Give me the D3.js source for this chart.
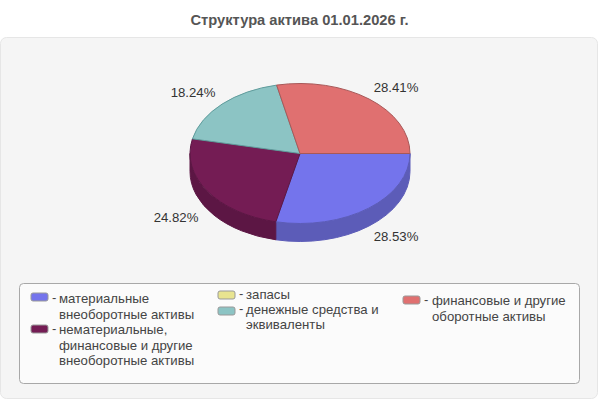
<!DOCTYPE html>
<html>
<head>
<meta charset="utf-8">
<style>
html, body { margin: 0; padding: 0; background: #fff; }
svg { display: block; }
text { font-family: "Liberation Sans", Arial, sans-serif; }
</style>
<script src="https://cdnjs.cloudflare.com/ajax/libs/d3/7.8.5/d3.min.js"></script>
</head>
<body>
<svg id="chart" width="600" height="400"></svg>
<script>
const title = "Структура актива 01.01.2026 г.";
const values = [28.53, 24.82, 0, 18.24, 28.41];
const colors = ["#7474ec", "#741c54", "#e8e490", "#8cc4c4", "#e07070"];
const sideColors = ["#5c5cb8", "#5c1644", "#b8b474", "#70a0a0", "#b05858"];
const edgeColors = ["#5c5cb8", "#5c1644", "#b8b474", "#609c9c", "#a85858"];
const legendLines = [
    ["материальные", "внеоборотные активы"],
    ["нематериальные,", "финансовые и другие", "внеоборотные активы"],
    ["запасы"],
    ["денежные средства и", "эквиваленты"],
    ["финансовые и другие", "оборотные активы"]
];
const legendX = [31, 31, 218, 218, 403];
const legendTextX = [59, 59, 246, 246, 432];
const legendY = [293, 325, 291, 307, 296];
const legendBase = [[303, 319], [334, 350, 365], [298.5], [313.5, 328.5], [305, 321]];
const labelPos = [[396, 241], [176, 222], null, [193, 97], [396, 92]];

const svg = d3.select("#chart");

// panels
svg.append("rect")
    .attr("x", 0.5).attr("y", 37.5)
    .attr("width", 597).attr("height", 361)
    .attr("rx", 6)
    .attr("fill", "#f5f5f5")
    .attr("stroke", "#e6e6e6");

svg.append("text")
    .attr("x", 299.5).attr("y", 25)
    .attr("text-anchor", "middle")
    .attr("font-size", 14.7).attr("font-weight", "bold")
    .attr("fill", "#555")
    .text(title);

svg.append("rect")
    .attr("x", 19.5).attr("y", 283.5)
    .attr("width", 560).attr("height", 100)
    .attr("rx", 4)
    .attr("fill", "#fbfbfb")
    .attr("stroke", "#a8a8a8");

// pie, angles run clockwise from 3 o'clock
const cx = 300, cy = 153.5, rx = 110, ry = 70, depth = 18;

const pie = d3.pie()
    .sort(null)
    .value(d => d)
    .startAngle(Math.PI / 2)
    .endAngle(Math.PI / 2 + 2 * Math.PI);

const arcs = pie(values);

const pt = (a, dy) => [cx + rx * Math.sin(a), cy - ry * Math.cos(a) + dy];

// side wall only for the part of the rim facing the viewer
const wall = d => {
    const a0 = Math.max(d.startAngle, Math.PI / 2);
    const a1 = Math.min(d.endAngle, 3 * Math.PI / 2);
    if (a1 <= a0) return null;
    const p0 = pt(a0, 0), p1 = pt(a1, 0), p2 = pt(a1, depth), p3 = pt(a0, depth);
    return `M${p0}A${rx},${ry} 0 0 1 ${p1}L${p2}A${rx},${ry} 0 0 0 ${p3}Z`;
};

const wallArcs = arcs.filter(d => d.value > 0 && wall(d));
svg.append("g").selectAll("path")
    .data(wallArcs)
    .enter()
    .append("path")
    .attr("d", wall)
    .attr("fill", d => sideColors[d.index])
    .attr("stroke", d => sideColors[d.index]);

const arc = d3.arc().innerRadius(0).outerRadius(rx);

svg.append("g")
    .attr("transform", `translate(${cx},${cy}) scale(1,${ry / rx})`)
    .selectAll("path")
    .data(arcs.filter(d => d.value > 0))
    .enter()
    .append("path")
    .attr("d", arc)
    .attr("fill", d => colors[d.index])
    .attr("stroke", d => edgeColors[d.index])
    .attr("stroke-width", 1)
    .attr("vector-effect", "non-scaling-stroke");

// value labels
svg.append("g").selectAll("text")
    .data(arcs.filter(d => d.value > 0))
    .enter()
    .append("text")
    .attr("x", d => labelPos[d.index][0])
    .attr("y", d => labelPos[d.index][1])
    .attr("text-anchor", "middle")
    .attr("font-size", 13.2)
    .attr("fill", "#333")
    .text(d => d.value.toFixed(2) + "%");

// legend
const items = svg.append("g").selectAll("g")
    .data(legendLines)
    .enter()
    .append("g");

items.append("rect")
    .attr("x", (d, i) => legendX[i])
    .attr("y", (d, i) => legendY[i])
    .attr("width", 17).attr("height", 8)
    .attr("rx", 2)
    .attr("fill", (d, i) => colors[i])
    .attr("stroke", "#999");

items.append("text")
    .attr("x", (d, i) => legendX[i] + 21)
    .attr("y", (d, i) => legendBase[i][0] - 1)
    .attr("font-size", 13)
    .attr("fill", "#444")
    .text("-");

items.each(function (lines, i) {
    d3.select(this).selectAll("text.line")
        .data(lines)
        .enter()
        .append("text")
        .attr("class", "line")
        .attr("x", legendTextX[i])
        .attr("y", (d, j) => legendBase[i][j])
        .attr("font-size", 13.2)
        .attr("fill", "#444")
        .text(d => d);
});
</script>
</body>
</html>
